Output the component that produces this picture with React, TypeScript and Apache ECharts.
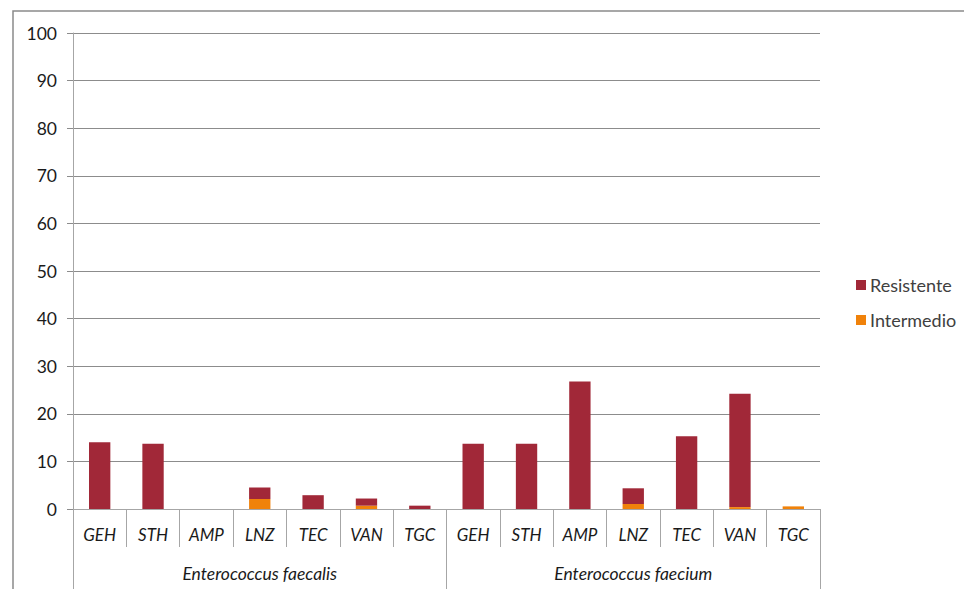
import React, { useEffect, useRef } from "react";
import * as echarts from "echarts";

const categories = ["GEH", "STH", "AMP", "LNZ", "TEC", "VAN", "TGC", "GEH", "STH", "AMP", "LNZ", "TEC", "VAN", "TGC"];
const groups = ["Enterococcus faecalis", "Enterococcus faecium"];
const resistente = [14.0, 13.7, 0, 2.4, 2.9, 1.5, 0.7, 13.7, 13.7, 26.8, 3.3, 15.3, 23.8, 0];
const intermedio = [0, 0, 0, 2.1, 0, 0.7, 0, 0, 0, 0, 1.05, 0, 0.4, 0.55];
const yTicks = { min: 0, max: 100, interval: 10 };

const FONT = "Lato, 'Open Sans', sans-serif";

export default function App() {
  const ref = useRef<HTMLDivElement>(null);
  useEffect(() => {
    if (!ref.current) return;
    const chart = echarts.init(ref.current, undefined, { renderer: "svg" });
    chart.setOption({
      animation: false,
      backgroundColor: "#ffffff",
      textStyle: { fontFamily: FONT },
      graphic: [
        {
          type: "rect",
          shape: { x: 13, y: 11, width: 1200, height: 900 },
          style: { fill: "none", stroke: "#8a8a8a", lineWidth: 1.5 },
          silent: true,
        },
      ],
      grid: { left: 73, right: 144, top: 33, bottom: 80, containLabel: false },
      legend: {
        orient: "vertical",
        left: 851,
        top: 271,
        itemWidth: 10,
        itemHeight: 10,
        itemGap: 17,
        icon: "rect",
        data: ["Resistente", "Intermedio"],
        textStyle: { fontFamily: FONT, fontSize: 18, color: "#404040", padding: [0, 0, 0, -1] },
      },
      xAxis: [
        {
          type: "category",
          data: categories,
          position: "bottom",
          axisLine: { show: true, lineStyle: { color: "#a6a6a6", width: 1 } },
          axisTick: { show: true, interval: 0, length: 38, alignWithLabel: false, lineStyle: { color: "#a6a6a6" } },
          axisLabel: { interval: 0, margin: 17, fontFamily: FONT, fontSize: 17, fontStyle: "italic", color: "#1a1a1a" },
          splitLine: { show: false },
        },
        {
          type: "category",
          data: groups,
          position: "bottom",
          axisLine: { show: false },
          axisTick: { show: true, interval: 0, length: 82, alignWithLabel: false, lineStyle: { color: "#a6a6a6" } },
          axisLabel: { interval: 0, margin: 55, fontFamily: FONT, fontSize: 17.5, fontStyle: "italic", color: "#1a1a1a" },
          splitLine: { show: false },
        },
      ],
      yAxis: {
        type: "value",
        min: yTicks.min,
        max: yTicks.max,
        interval: yTicks.interval,
        axisLine: { show: true, lineStyle: { color: "#a6a6a6" } },
        axisTick: { show: true, length: 6, lineStyle: { color: "#8c8c8c" } },
        axisLabel: { margin: 16, fontFamily: FONT, fontSize: 17.5, color: "#1a1a1a" },
        splitLine: { show: true, lineStyle: { color: "#8c8c8c", width: 1 } },
      },
      series: [
        {
          name: "Intermedio",
          type: "bar",
          stack: "total",
          xAxisIndex: 0,
          data: intermedio,
          barWidth: "40%",
          itemStyle: { color: "#F0820A" },
        },
        {
          name: "Resistente",
          type: "bar",
          stack: "total",
          xAxisIndex: 0,
          data: resistente,
          barWidth: "40%",
          itemStyle: { color: "#A12838" },
        },
      ],
    });
    return () => chart.dispose();
  }, []);
  return <div ref={ref} style={{ position: "fixed", left: 0, top: 0, width: 964, height: 589 }} />;
}
